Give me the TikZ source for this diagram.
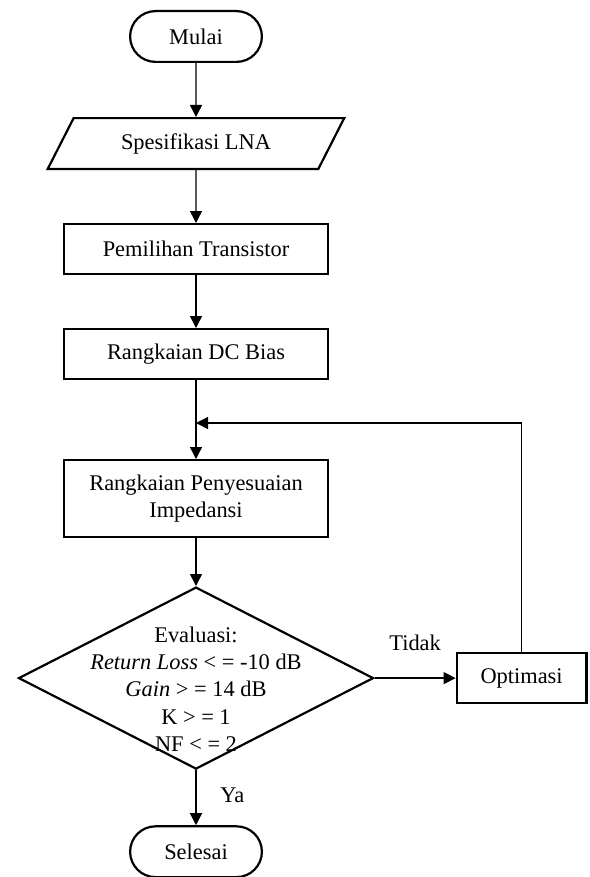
\documentclass[tikz,border=0pt]{standalone}
\usepackage{fontspec}
\setmainfont{Liberation Serif}
\usetikzlibrary{arrows.meta,positioning,shapes.geometric}

\begin{document}
\begin{tikzpicture}[x=0.5pt,y=-0.5pt,node distance=26.5pt and 40.5pt,>={Triangle[length=6pt,width=6pt]},
font=\fontsize{11.2}{13.6}\selectfont,
term/.style={draw,line width=1.1pt,rounded corners=12.7pt,minimum width=65.9pt,minimum height=25.4pt},
io/.style={draw,line width=1.1pt,trapezium,trapezium left angle=63,trapezium right angle=117,minimum width=138pt,minimum height=25.4pt},
box/.style={draw,line width=1.1pt,align=center,minimum width=131.9pt,minimum height=24.9pt},
decision/.style={draw,line width=1.1pt,diamond,minimum width=177.5pt,minimum height=91pt,inner sep=0pt},
line/.style={->,line width=0.7pt}]
\useasboundingbox (0,0) rectangle (589,877);
\node[term] (mulai) at (196,36.5) {Mulai};
\node[io,below=27pt of mulai] (spek) {Spesifikasi LNA};
\node[box,below=of spek] (transistor) {Pemilihan Transistor};
\node[box,below=of transistor] (bias) {Rangkaian DC Bias};
\node[box,below=39.5pt of bias,minimum height=38.4pt] (matching) {Rangkaian Penyesuaian\\Impedansi};
\node[decision,below=24pt of matching,label={[align=center,yshift=-5.5pt]center:Evaluasi:\\\textit{Return Loss} < = -10 dB\\\textit{Gain} > = 14 dB\\K > = 1\\NF < = 2}] (eval) {};
\node[box,right=of eval,minimum width=64.9pt] (optimasi) {Optimasi};
\node[term,below=27.5pt of eval] (selesai) {Selesai};
\coordinate[below=21.5pt of bias] (gabung);
\draw[line] (mulai)--(spek);
\draw[line] (spek)--(transistor);
\draw[line] (transistor)--(bias);
\draw[line] (bias)--(matching);
\draw[line] (matching)--(eval);
\draw[line] (eval)--node[above=10pt]{Tidak}(optimasi);
\draw[line] (eval)--node[right=8.5pt,pos=0.45]{Ya}(selesai);
\draw[line] (optimasi)|-(gabung);
\end{tikzpicture}
\end{document}
